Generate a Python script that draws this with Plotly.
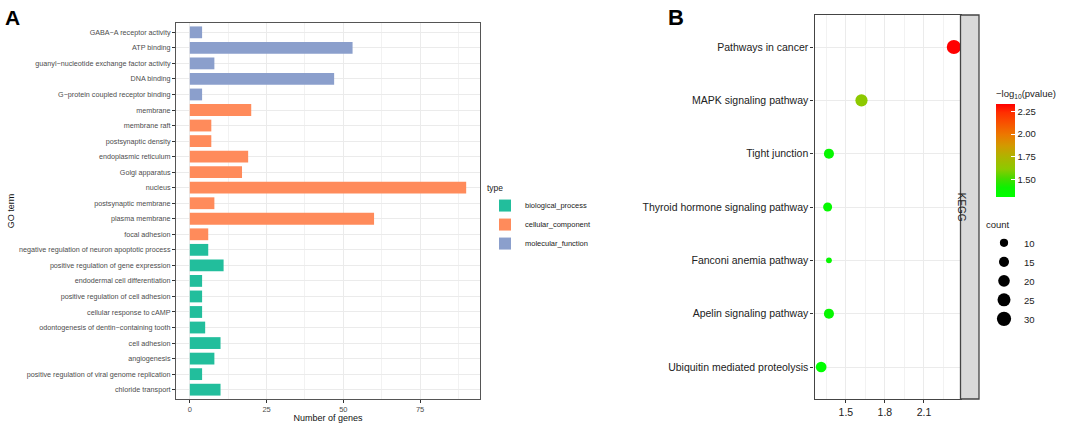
import numpy as np
import plotly.graph_objects as go

# ---------------- data ----------------
go_terms = [
    "GABA\u2212A receptor activity", "ATP binding", "guanyl\u2212nucleotide exchange factor activity",
    "DNA binding", "G\u2212protein coupled receptor binding", "membrane", "membrane raft",
    "postsynaptic density", "endoplasmic reticulum", "Golgi apparatus", "nucleus",
    "postsynaptic membrane", "plasma membrane", "focal adhesion",
    "negative regulation of neuron apoptotic process", "positive regulation of gene expression",
    "endodermal cell differentiation", "positive regulation of cell adhesion",
    "cellular response to cAMP", "odontogenesis of dentin\u2212containing tooth", "cell adhesion",
    "angiogenesis", "positive regulation of viral genome replication", "chloride transport",
]
go_counts = [4, 53, 8, 47, 4, 20, 7, 7, 19, 17, 90, 8, 60, 6, 6, 11, 4, 4, 4, 5, 10, 8, 4, 10]
go_types = ["molecular_function"] * 5 + ["cellular_component"] * 9 + ["biological_process"] * 10
type_order = ["biological_process", "cellular_component", "molecular_function"]
type_colors = {"biological_process": "#22BE9C", "cellular_component": "#FF8B5B",
               "molecular_function": "#8B9FCC"}

kegg_terms = ["Pathways in cancer", "MAPK signaling pathway", "Tight junction",
              "Thyroid hormone signaling pathway", "Fanconi anemia pathway",
              "Apelin signaling pathway", "Ubiquitin mediated proteolysis"]
kegg_logp = [2.33, 1.62, 1.37, 1.36, 1.37, 1.37, 1.31]
kegg_count = [30, 22, 15, 12, 5, 15, 17]
count_breaks = [10, 15, 20, 25, 30]
logp_ticks = [1.50, 1.75, 2.00, 2.25]
x2_ticks = [1.5, 1.8, 2.1]
x1_ticks = [0, 25, 50, 75]

# green -> red gradient as seen in the reference colour bar
colorscale = [
    [0.00, "#00FF00"], [0.10, "#0CF200"], [0.20, "#46DA00"], [0.30, "#8CCA00"],
    [0.43, "#AEB400"], [0.55, "#D29A00"], [0.67, "#EC7800"], [0.80, "#F85000"],
    [0.91, "#FF2E00"], [1.00, "#FF0000"],
]


def size_px(c):
    return 2.6 * np.sqrt(np.asarray(c, dtype=float))


FONT = "Liberation Sans, Arial, sans-serif"
W, H = 1065, 423
px = lambda v: v / W
py = lambda v: 1 - v / H

A_dom_x = [px(176), px(480)]
A_dom_y = [py(399), py(23)]
B_dom_x = [px(814.5), px(960.5)]
B_dom_y = [py(399), py(15)]
strip_x = [px(960.5), px(979)]

fig = go.Figure()

# ---------------- panel A ----------------
for t in type_order:
    ys = [g for g, ty in zip(go_terms, go_types) if ty == t]
    xs = [c for c, ty in zip(go_counts, go_types) if ty == t]
    fig.add_trace(go.Bar(
        x=xs, y=ys, orientation="h", name=t, width=0.76,
        marker=dict(color=type_colors[t], line=dict(width=0)), opacity=1,
        xaxis="x", yaxis="y", legend="legend", hoverinfo="x+y",
    ))

# ---------------- panel B ----------------
fig.add_trace(go.Scatter(
    x=kegg_logp, y=kegg_terms, mode="markers", xaxis="x2", yaxis="y2", showlegend=False,
    marker=dict(size=size_px(kegg_count), sizemode="diameter", color=kegg_logp,
                colorscale=colorscale, line=dict(width=0), opacity=1,
                colorbar=dict(
                    title=dict(text="\u2212log<sub>10</sub>(pvalue)", side="top",
                               font=dict(size=9.5, color="#222", family=FONT)),
                    x=px(996), xanchor="left", xpad=0, ypad=0,
                    y=py(197), yanchor="bottom", len=110, lenmode="pixels",
                    thickness=19, thicknessmode="pixels", outlinewidth=0,
                    tickvals=logp_ticks, ticktext=["%.2f" % v for v in logp_ticks],
                    ticks="inside", ticklen=4, tickcolor="white", tickwidth=1,
                    tickfont=dict(size=9.5, color="#222", family=FONT),
                )),
))

for c in count_breaks:
    fig.add_trace(go.Scatter(
        x=[None], y=[None], mode="markers", name=str(c), xaxis="x2", yaxis="y2",
        marker=dict(size=float(size_px(c)), color="black"), legend="legend2", showlegend=True,
    ))

grid_major = "#EBEBEB"
axis_common = dict(showline=True, mirror=True, zeroline=False, automargin=False,
                   ticks="outside", ticklen=3, tickwidth=1)

fig.update_layout(
    width=W, height=H, margin=dict(l=0, r=0, t=0, b=0),
    paper_bgcolor="white", plot_bgcolor="white", barmode="overlay",
    font=dict(family=FONT, color="#222"),
    xaxis=dict(domain=A_dom_x, range=[-4.5, 94.5], tickvals=x1_ticks,
               showgrid=True, gridcolor=grid_major, gridwidth=1,
               minor=dict(dtick=12.5, tick0=0, showgrid=True, gridcolor="#F2F2F2", gridwidth=0.6, ticks=""),
               linecolor="#555", tickcolor="#333",
               tickfont=dict(size=7.5, color="#4D4D4D"),
               title=dict(text="Number of genes", font=dict(size=9, color="#111"), standoff=0),
               anchor="y", **axis_common),
    yaxis=dict(domain=A_dom_y, type="category", categoryorder="array",
               categoryarray=go_terms[::-1], range=[-0.6, len(go_terms) - 0.4],
               showgrid=True, gridcolor=grid_major, gridwidth=1,
               linecolor="#555", tickcolor="#333",
               tickfont=dict(size=7.2, color="#4D4D4D"),
               title=dict(text="GO term", font=dict(size=9, color="#111"), standoff=2),
               anchor="x", **axis_common),
    xaxis2=dict(domain=B_dom_x, range=[1.259, 2.381], tickvals=x2_ticks,
                ticktext=["%.1f" % v for v in x2_ticks],
                showgrid=True, gridcolor=grid_major, gridwidth=1,
                minor=dict(dtick=0.15, tick0=1.35, showgrid=True, gridcolor="#F2F2F2", gridwidth=0.6, ticks=""),
                linecolor="#444", linewidth=1.3, tickcolor="#333",
                tickfont=dict(size=10.5, color="#222"),
                anchor="y2", **axis_common),
    yaxis2=dict(domain=B_dom_y, type="category", categoryorder="array",
                categoryarray=kegg_terms[::-1], range=[-0.6, len(kegg_terms) - 0.4],
                showgrid=True, gridcolor=grid_major, gridwidth=1,
                linecolor="#444", linewidth=1.3, tickcolor="#333",
                tickfont=dict(size=10.5, color="#222"),
                anchor="x2", **axis_common),
    legend=dict(x=px(485), y=py(180), xanchor="left", yanchor="top",
                title=dict(text="type", font=dict(size=8.5, color="#222")),
                font=dict(size=7.5, color="#222"), bgcolor="rgba(0,0,0,0)",
                traceorder="normal", itemclick=False),
    legend2=dict(x=px(984), y=py(216), xanchor="left", yanchor="top",
                 title=dict(text="count", font=dict(size=9.5, color="#222")),
                 font=dict(size=9.5, color="#222"), bgcolor="rgba(0,0,0,0)",
                 itemsizing="trace", traceorder="normal", itemclick=False),
    shapes=[dict(type="rect", xref="paper", yref="paper", x0=strip_x[0], x1=strip_x[1],
                 y0=B_dom_y[0], y1=B_dom_y[1], fillcolor="#D9D9D9",
                 line=dict(color="#444", width=1.3), layer="above")],
    annotations=[
        dict(text="KEGG", textangle=90, x=(strip_x[0] + strip_x[1]) / 2, y=(B_dom_y[0] + B_dom_y[1]) / 2,
             xref="paper", yref="paper", showarrow=False, font=dict(size=10, color="#222")),
        dict(text="<b>A</b>", x=px(3), y=py(4), xref="paper", yref="paper", xanchor="left",
             yanchor="top", showarrow=False, font=dict(size=21, color="black")),
        dict(text="<b>B</b>", x=px(666), y=py(3), xref="paper", yref="paper", xanchor="left",
             yanchor="top", showarrow=False, font=dict(size=22, color="black")),
    ],
)

fig.write_html("out.html", config={"displayModeBar": False},
               post_script="document.body.style.margin='0px';document.body.style.padding='0px';")
